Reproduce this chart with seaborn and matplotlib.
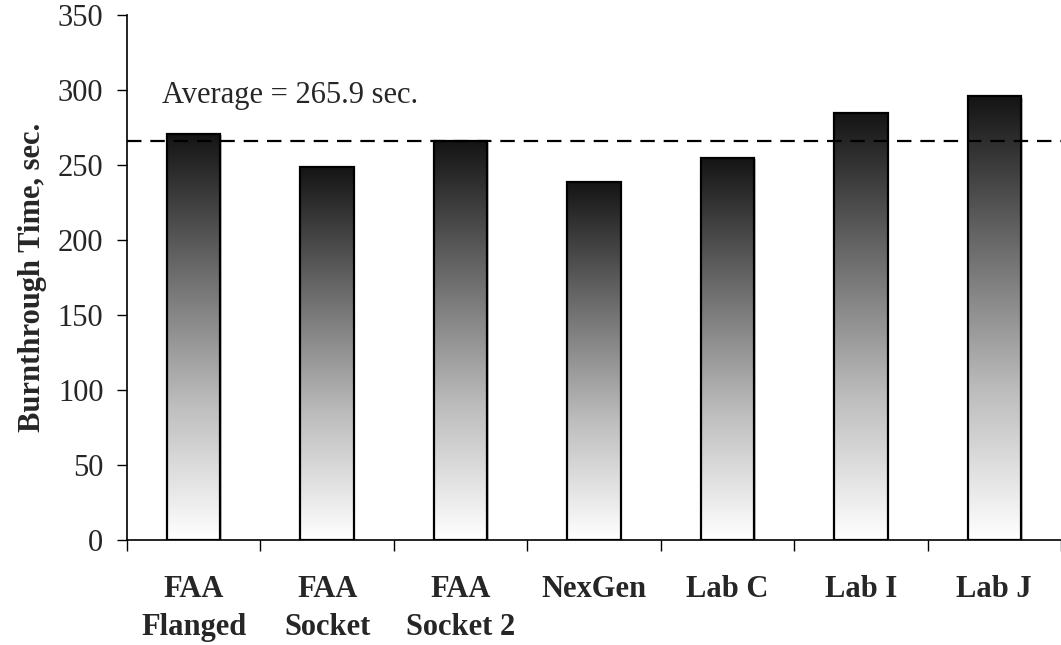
import numpy as np
import pandas as pd
import matplotlib
matplotlib.use("Agg")
import matplotlib.pyplot as plt
import seaborn as sns
from matplotlib.colors import LinearSegmentedColormap

categories = ["FAA\nFlanged", "FAA\nSocket", "FAA\nSocket 2", "NexGen", "Lab C", "Lab I", "Lab J"]
times = [271, 249, 266, 239, 255, 285, 296]
average = 265.9
y_ticks = [0, 50, 100, 150, 200, 250, 300, 350]

sns.set_theme(style="white")
plt.rcParams['font.family'] = ['Liberation Serif', 'DejaVu Serif']

df = pd.DataFrame({"cat": categories, "t": times})

fig = plt.figure(figsize=(10.61, 6.45), dpi=100)
ax = fig.add_axes([127/1061, 105/645, 1 - 127/1061, 525/645])

sns.barplot(data=df, x="cat", y="t", ax=ax, width=0.4, facecolor="none",
            edgecolor="black", linewidth=1.6, zorder=3)

cmap = LinearSegmentedColormap.from_list("g", ["#ffffff", "#bdbdbd", "#6a6a6a", "#141414"])
grad = np.linspace(0, 1, 256).reshape(-1, 1)
for p in ax.patches:
    x0, y0 = p.get_x(), p.get_y()
    w, h = p.get_width(), p.get_height()
    # shadow
    ax.add_patch(plt.Rectangle((x0 + 0.012, y0), w, h - 1.2, facecolor="#9a9a9a",
                               edgecolor="none", zorder=1.5, alpha=0.6))
    im = ax.imshow(grad, extent=[x0, x0 + w, y0, y0 + h], origin="lower",
                   cmap=cmap, aspect="auto", zorder=2)
    im.set_clip_path(p)

ax.axhline(average, color="black", linestyle=(0, (6.5, 4)), linewidth=1.6, zorder=4)
ax.text(-0.24, 291.5, "Average = 265.9 sec.", fontsize=22, ha="left", va="baseline")

ax.set_xlim(-0.5, 6.5)
ax.set_ylim(0, 350)
ax.set_yticks(y_ticks)
ax.set_yticklabels([str(v) for v in y_ticks], fontsize=22)
ax.set_xticks(range(len(categories)))
ax.set_xticklabels(categories, fontsize=22, fontweight="bold", linespacing=1.4)
ax.set_xticks(np.arange(-0.5, 6.6, 1), minor=True)
ax.tick_params(axis="x", which="major", length=0, pad=25)
ax.tick_params(axis="x", which="minor", length=8, width=1, color="black", direction="out", bottom=True)
ax.tick_params(axis="y", which="major", length=7, width=1, color="black", direction="out", left=True, pad=10)
for lab in ax.get_xticklabels():
    lab.set_verticalalignment("top")

ax.set_xlabel("")
ax.set_ylabel("Burnthrough Time, sec.", fontsize=22, fontweight="bold", labelpad=8)

for s in ["top", "right"]:
    ax.spines[s].set_visible(False)
for s in ["left", "bottom"]:
    ax.spines[s].set_color("black")
    ax.spines[s].set_linewidth(1.2)

fig.savefig("out.png", dpi=100)
